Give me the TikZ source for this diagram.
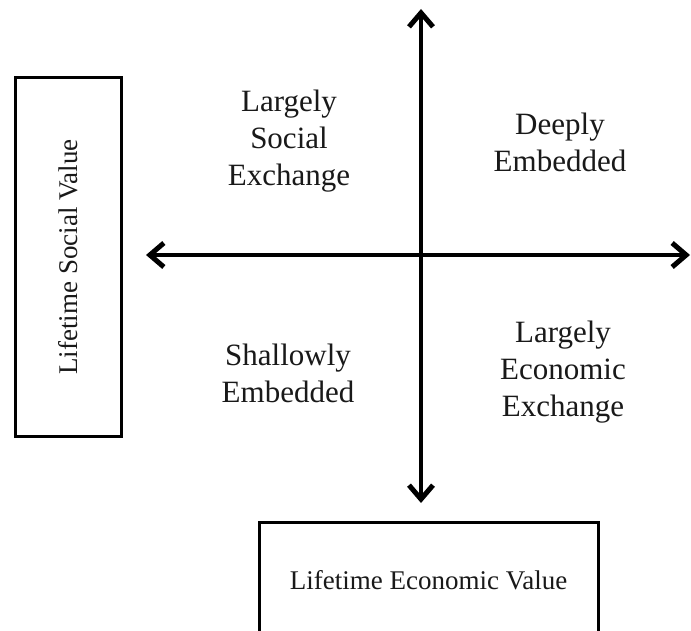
\documentclass[tikz,border=0pt]{standalone}
\usepackage{fontspec}
\setmainfont{Liberation Serif}
\usetikzlibrary{arrows.meta}
\begin{document}
\begin{tikzpicture}[x=1pt,y=-1pt,
  quad/.style={align=center, text=black!90, font=\fontsize{31}{37}\selectfont, inner sep=0pt},
  valbox/.style={draw, line width=3pt, text=black!90, font=\fontsize{27}{32}\selectfont, inner sep=0pt},
  axis/.style={line width=4pt, {Straight Barb[length=14pt,width=24pt,line width=5pt]}-{Straight Barb[length=14pt,width=24pt,line width=5pt]}}]
\clip (0,0) rectangle (691,631);
\fill[white] (0,0) rectangle (691,631);
% axes
\coordinate (top) at (421,9);
\coordinate (bottom) at (421,503);
\coordinate (left) at (146,255);
\coordinate (right) at (690,255);
\draw[axis] (bottom) -- (top);
\draw[axis] (left) -- (right);
% quadrant labels
\node[quad] (lse) at (289,141) {Largely\\Social\\Exchange};
\node[quad] (de) at (560,142) {Deeply\\Embedded};
\node[quad] (se) at (288,373) {Shallowly\\Embedded};
\node[quad] (lee) at (563,372) {Largely\\Economic\\Exchange};
% value boxes
\node[valbox, rotate=90, minimum width=358pt, minimum height=106pt] (lsv) at (68,257) {Lifetime Social Value};
\node[valbox, minimum width=339pt, minimum height=116pt] (lev) at (428.5,580) {Lifetime Economic Value};
\end{tikzpicture}
\end{document}
